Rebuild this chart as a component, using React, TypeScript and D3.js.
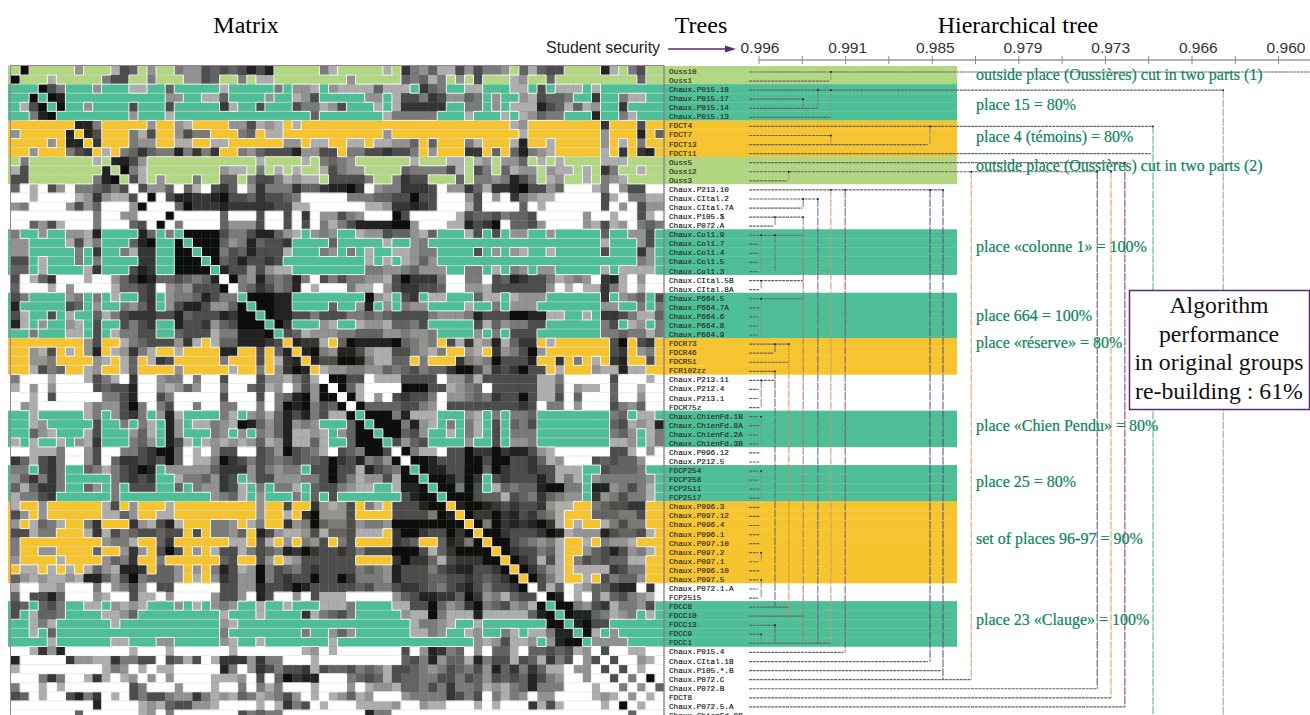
import React from "react";
import * as d3 from "d3";

const labels = ["Ouss10","Ouss1","Chaux.P015.18","Chaux.P015.17","Chaux.P015.14","Chaux.P015.13","FDCT4","FDCT7","FDCT13","FDCT11","Ouss5","Ouss12","Ouss3","Chaux.P213.10","Chaux.CItal.2","Chaux.CItal.7A","Chaux.P105.$","Chaux.P072.A","Chaux.Col1.9","Chaux.Col1.7","Chaux.Col1.4","Chaux.Col1.5","Chaux.Col1.3","Chaux.CItal.5B","Chaux.CItal.8A","Chaux.P664.5","Chaux.P664.7A","Chaux.P664.6","Chaux.P664.8","Chaux.P664.9","FDCR73","FDCR46","FDCR51","FCR102zz","Chaux.P213.11","Chaux.P212.4","Chaux.P213.1","FDCR75z","Chaux.ChienFd.1B","Chaux.ChienFd.8A","Chaux.ChienFd.2A","Chaux.ChienFd.3B","Chaux.P096.12","Chaux.P212.5","FDCP254","FDCP258","FCP2511","FCP2517","Chaux.P096.3","Chaux.P097.12","Chaux.P096.4","Chaux.P096.1","Chaux.P097.10","Chaux.P097.2","Chaux.P097.1","Chaux.P096.10","Chaux.P097.5","Chaux.P072.1.A","FCP2515","FDCC8","FDCC10","FDCC13","FDCC9","FDCC1","Chaux.P015.4","Chaux.CItal.1B","Chaux.P105.*.B","Chaux.P072.C","Chaux.P072.B","FDCT8","Chaux.P072.5.A","Chaux.ChienFd.9B"];

// Group of each row: l = light green, t = teal, o = orange, w = white
const rowGroups = "llttttoooolllwwwwwtttttwwtttttoooowwwwttttwwttttooooooooowwtttttwwwwwwww";

// Upper triangle of the matrix, columns grouped by twelve and right aligned.
// 0 = black ... 7 = light grey, "." = empty cell (row colour shows through)
const upperRows = [
"0.....6...7 34.6..566343 43131.....57 .....7.25647 7363556.4743 3....17.53..",
"..7.....53 3..5...6634. .5.77....... .6.....45475 .6.3...76..4 .........4..",
"035...6.. .77..4.....7 .....5.667.6 77774777.245 ..77...77.3. 777.7.......",
"01...... .....66..774 ....6..763.. ...66.733523 6645.6..6734 45..2..577..",
"0..6... .3...3.....2 7..3...35576 3...7.722222 ..55.6.77713 47476..2....",
"...... .6...7...... .........4.. .....755555. ..7...7.7645 5...1..57...",
"115.. ...6..67.... 663767.7.... ............ .......76... .....2...3..",
"13.. .573..6355.. .54.77...... .....6...... ........7... .....6...1.4",
"2.. .566..77..77 ......66.77. .77.77664.4. ..57...71..7 .....6.7.5..",
"7. 54245515252. .56433316633 .55332335.6. ..22.4.41567 .....7.2.21.",
"1 136......... ...7....7.54 56......7... 77.76.664.7. 7....777....",
"057........6 77.5.7.7..73 566....45555 37.35.4766.6 77.7.25..7..",
"37.6...5..4 4.53357677.3 3335..5233.. .4.5565135.7 6..7.567....",
"3664.47.32 4.6255524421 102.6552223. 662472210336 4...75.633..",
"0.3112210 33423345.... .5554433033. ..63.6.25677 .....37.5577",
"..402221 222223377... ...77622123. ..73....4.7. .....3.6.366",
"0.....4 ...3..3.2.66 356...03.... .734435443.. ...6..7..37.",
"5....4 6663..3.3.57 531111006... 771320.4436. ...67376.545",
"00003 55311467.656 ..766344674. ..73.3.66..6 .....4..663.",
"0004 6514332....4 .....7..65.. ............ .....7...63.",
"005 3413337...56 .5.7..77655. ...3.6.67..7 .....3...26.",
"04 313323...... ...7.7.7646. ............ .........56.",
"1 3363677..... ...556654666 ..55.7.56.66 .....7.7777.",
"056145415.35 355667302225 ..55.3412335 7656.217.6..",
"5423541.7.. .577.6322334 ..6673333336 .7.77257.7..",
"00011..... ...067.32.77 ...477.7666. .....2.654.3",
"0011....4 ..61.6.566.. ..7..5.666.. .....66..5.5",
"01133533 355454333356 665133300117 7..7.2235774",
"02...67 ..76674453.. ...37465533. .....53.76.5",
"347666 55444665665. ...6.5.333.. .....5545575",
"1227. 40111104565. 3727617422.7 ......30.32.",
"1056 113677335675 ..67.265306. ......32.65.",
"133 00157744.5.. .256503331.. 2.5.7.21..3.",
"76 655664543544 20036232033. 7...677177..",
"0 033.7773333. 664733333377 5.....3...7.",
"047....00033 7654.3333377 4.677.4..7..",
"07.6.32335. 665452330377 3.4...4..6..",
"044443356. 3333333323.5 5.6...3564..",
"00051777. ..67.5.554.. ......54.77.",
"0005167. 5.57.3.453.. ......437671",
"00436.. 7.57.3.555.. ......546.75",
"3643.. ..6..3.665.. ......776.75",
"0577. 330220211367 ......337.6.",
"0013 330030033247 6...343446..",
"011 330040233233 777..34445..",
"00 1302.3233313 757.6555556.",
"0 0503.7454410 055.1165357.",
"000344734524 566.2653557.",
"10012323326 77..543322..",
"0220213245 7...444553..",
"050212102 7.7..75355..",
"00233320 17666134437.",
"0034565 7..7.5667...",
"023354 7..64313657.",
"02373 7.53434477..",
"0246 7.77772355..",
"035 7..7.35446..",
"37 4.7644211.2.",
"0 1.7.4743567.",
"00563275563.",
"01145765.7.",
"1033......",
"07.6.....",
"6666....",
"3..77..",
"3..67.",
"3.7..",
"5.0.",
"6.4",
"7.",
".",
];

const greys: Record<string, string> = { "0": "#0e0e0e", "1": "#232323", "2": "#363636", "3": "#4d4d4d", "4": "#636363", "5": "#7a7a7a", "6": "#929292", "7": "#adadad" };
const groupFill: Record<string, string> = { l: "#b2d782", t: "#4dbe95", o: "#f6c42e", w: "#ffffff" };

// How far each leaf's branch reaches, in axis tick units
const branchEnd = [12.72,1.62,10.7,1.02,1.36,1.66,9.1,1.66,3.9,9.05,8.45,7.81,0.65,4.25,1.36,1.0,1.02,0.33,1.02,-0.02,-0.02,-0.02,-0.02,1.02,0.0,1.02,0.03,-0.02,-0.02,-0.02,0.69,0.33,0.69,0.37,0.37,-0.02,-0.02,0.03,-0.02,0.03,-0.02,-0.02,0.03,0.03,-0.02,-0.02,0.03,0.03,0.03,0.03,0.03,0.03,0.03,-0.02,-0.02,0.03,-0.02,-0.02,-0.02,0.69,1.02,0.37,0.03,1.66,1.95,3.9,4.2,4.9,7.81,8.13,8.45,9.1];

// Merges: [tick units, first row, last row, colour]
const merges: [number, number, number, string][] = [
  [1.66,0,1,"#a8938a"],[1.02,3,4,"#8a6f7a"],[1.36,2,4,"#7d7d88"],[1.66,2,5,"#9c8f80"],[1.66,7,8,"#a8938a"],[3.95,6,8,"#8c8c8c"],[0.69,11,12,"#d58d4f"],
  [1.02,14,15,"#8a6f7a"],[0.37,16,17,"#8a7f70"],[0.05,18,22,"#8a8a8a"],[0.37,18,22,"#7d6f6a"],[1.02,16,63,"#a9776f"],[1.36,14,63,"#6b5f86"],[1.66,13,63,"#c99a6e"],[1.99,13,64,"#8a4f74"],
  [3.95,13,65,"#5b4a78"],[4.25,13,67,"#5b4a78"],[4.9,11,67,"#d99a66"],[0.05,23,24,"#8a8a8a"],[0.05,25,29,"#8a8a8a"],[0.37,30,31,"#7d6f6a"],[0.69,30,60,"#d58d4f"],[0.37,33,59,"#6f6560"],
  [0.05,34,37,"#8a8a8a"],[0.05,38,41,"#8a8a8a"],[0.05,44,47,"#8a8a8a"],[0.05,53,54,"#8a8a8a"],[0.05,56,58,"#8a8a8a"],[0.37,61,63,"#6f6560"],[0.05,62,63,"#8a8a8a"],
  [7.81,11,68,"#54407c"],[8.13,11,69,"#d99a66"],[8.45,10,70,"#8a2f5c"],[9.1,6,71,"#4fa89a"],[10.72,2,71,"#a89a8a"],
];

const tickIndex = d3.range(0, 13);
const axisLabels = ["0.996", "0.991", "0.985", "0.979", "0.973", "0.966", "0.960"];

const notes: [string, number][] = [
  ["outside place (Oussières) cut in two parts (1)", 80],
  ["place 15 = 80%", 110],
  ["place 4 (témoins) = 80%", 142],
  ["outside place (Oussières) cut in two parts (2)", 171],
  ["place «colonne 1» = 100%", 252],
  ["place 664 = 100%", 321],
  ["place «réserve» = 80%", 348],
  ["place «Chien Pendu» = 80%", 431],
  ["place 25 = 80%", 487],
  ["set of places 96-97 = 90%", 544],
  ["place 23 «Clauge» = 100%", 625],
];
const boxLines = ["Algorithm", "performance", "in original groups", "re-building : 61%"];

const N = labels.length;
function buildMatrix(): string[][] {
  const m = d3.range(N).map(() => d3.range(N).map(() => "."));
  upperRows.forEach((s, r) => {
    const groups = s.split(" ");
    groups.forEach((g, k) => {
      const gi = 5 - (groups.length - 1 - k);
      const end = gi * 12 + 11;
      for (let j = 0; j < g.length; j++) {
        const c = end - (g.length - 1 - j);
        if (c > r && c < N) { m[r][c] = g[j]; m[c][r] = g[j]; }
      }
    });
  });
  return m;
}

const matrix = buildMatrix();
const xCell = d3.scaleBand<number>().domain(d3.range(N)).range([11, 664]);
const yCell = d3.scaleBand<number>().domain(d3.range(N)).range([66, 66 + 9.07 * N]);
const rowLine = d3.scaleLinear().domain([0, 63]).range([72, 643.4]);
const xTree = d3.scaleLinear().domain([0, 1]).range([759, 802.3]);
const xLabelTick = d3.scaleLinear().domain([0, 6]).range([760, 1286]);
const LEAF = 749;

function edges() {
  const w = xCell.bandwidth(), h = yCell.bandwidth();
  let halo = "", faint = "";
  for (let r = 0; r < N; r++) for (let c = 0; c < N; c++) {
    const x = xCell(c)!, y = yCell(r)!;
    const e = matrix[r][c] === ".";
    if (c + 1 < N && e !== (matrix[r][c + 1] === ".")) halo += `M${x + w},${y}v${h}`;
    if (r + 1 < N) {
      const e2 = matrix[r + 1][c] === ".";
      if (e !== e2) halo += `M${x},${y + h}h${w}`;
      else if (e) faint += `M${x},${y + h}h${w}`;
    }
  }
  return { halo, faint };
}
const { halo, faint } = edges();

export default function App() {
  const bands = d3.range(N).filter((r) => rowGroups[r] !== "w");
  return (
    <svg width={1310} height={715} viewBox="0 0 1310 715" style={{ position: "fixed", left: 0, top: 0, background: "#fff" }}>
      <text x={246} y={33} textAnchor="middle" fontFamily="Liberation Serif" fontSize={24}>Matrix</text>
      <text x={701} y={33} textAnchor="middle" fontFamily="Liberation Serif" fontSize={24}>Trees</text>
      <text x={1018} y={33} textAnchor="middle" fontFamily="Liberation Serif" fontSize={24}>Hierarchical tree</text>

      <text x={660} y={53} textAnchor="end" fontFamily="Liberation Sans" fontSize={15.9} fill="#222">Student security</text>
      <line x1={668} x2={727} y1={49} y2={49} stroke="#5b2a75" strokeWidth={1.6} />
      <path d="M736,49L725,45.5V52.5Z" fill="#5b2a75" />
      {axisLabels.map((t, i) => (
        <text key={t} x={xLabelTick(i)} y={53} textAnchor="middle" fontFamily="Liberation Sans" fontSize={15.5} fill="#333">{t}</text>
      ))}
      <line x1={xTree(0)} x2={1310} y1={60} y2={60} stroke="#9a9a9a" strokeWidth={1.4} />
      {tickIndex.map((t) => (
        <line key={t} x1={xTree(t)} x2={xTree(t)} y1={56} y2={64} stroke="#8a8a8a" strokeWidth={1} />
      ))}

      {bands.map((r) => (
        <rect key={r} x={8} y={yCell(r)!} width={949} height={yCell.bandwidth() + 0.3} fill={groupFill[rowGroups[r]]} />
      ))}

      {matrix.map((row, r) => row.map((v, c) => v === "." ? null : (
        <rect key={`${r}-${c}`} x={xCell(c)!} y={yCell(r)!} width={xCell.bandwidth() + 0.2} height={yCell.bandwidth() + 0.2} fill={greys[v]} stroke="#000" strokeOpacity={0.06} strokeWidth={0.5} />
      )))}
      <path d={faint} fill="none" stroke="#d9d9d9" strokeOpacity={0.7} strokeWidth={0.8} />
      <path d={halo} fill="none" stroke="#ffffff" strokeOpacity={0.92} strokeWidth={1} />
      <rect x={10.5} y={65.5} width={653.5} height={660} fill="none" stroke="#9a7fa6" strokeWidth={1} />
      <line x1={664} x2={664} y1={66} y2={715} stroke="#777" strokeOpacity={0.6} strokeWidth={1} />

      {labels.map((l, r) => (
        <text key={l} x={669} y={rowLine(r) + 2} fontFamily="Liberation Mono" fontSize={7.7} fill={rowGroups[r] === "w" ? "#111" : "#2a2a2a"} stroke={rowGroups[r] === "w" ? "#111" : "#2a2a2a"} strokeWidth={0.15}>{l}</text>
      ))}

      {branchEnd.map((e, r) => (
        <line key={r} x1={LEAF} x2={xTree(e)} y1={rowLine(r)} y2={rowLine(r)} stroke="#666666" strokeWidth={1.2} strokeDasharray="3 0.7" />
      ))}
      {merges.map(([l, a, b, col], i) => (
        <g key={i}>
          <line x1={xTree(l)} x2={xTree(l)} y1={rowLine(a)} y2={rowLine(b)} stroke={col} strokeWidth={1} strokeDasharray="8 1.2" />
          <circle cx={xTree(l)} cy={rowLine(a)} r={0.9} fill="#111" />
        </g>
      ))}

      {notes.map(([t, y], i) => (
        <text key={i} x={976} y={y} fontFamily="Liberation Serif" fontSize={16} fill="#0a8558" stroke="#0a8558" strokeWidth={0.2}>{t}</text>
      ))}

      <rect x={1129.5} y={290.5} width={180} height={119} fill="#fff" stroke="#5a2d6e" strokeWidth={1.5} />
      {boxLines.map((t, i) => (
        <text key={t} x={1219} y={313 + i * 28.7} textAnchor="middle" fontFamily="Liberation Serif" fontSize={23.8} fill="#111">{t}</text>
      ))}
    </svg>
  );
}
